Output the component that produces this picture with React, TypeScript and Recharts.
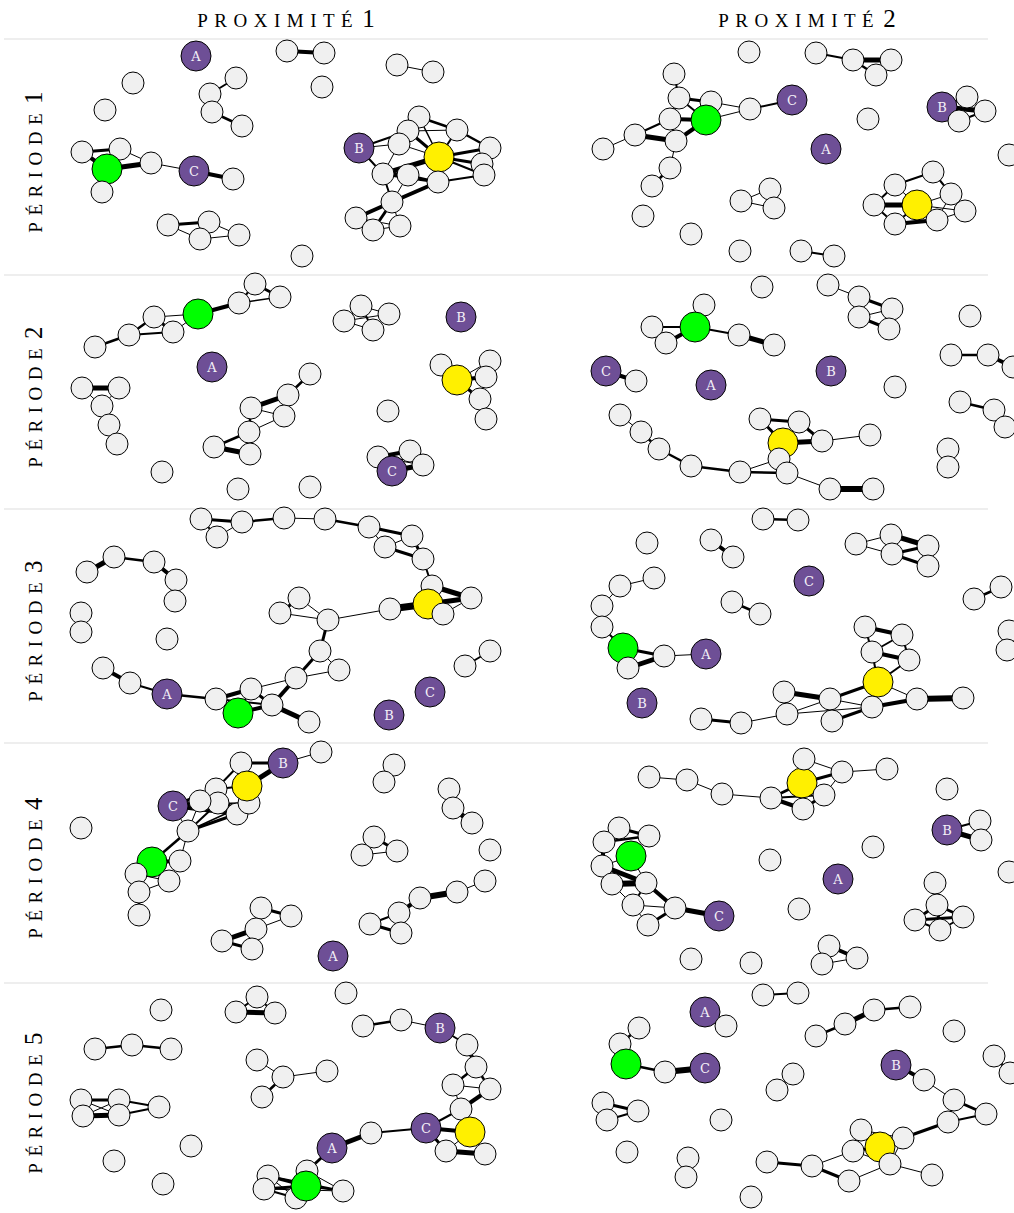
import { ScatterChart, Scatter, XAxis, YAxis } from "recharts"

type Node = [string, number, number]
type Edge = [string, string, number]

const columns = ["proximité 1", "proximité 2"]
const rows = ["période 1", "période 2", "période 3", "période 4", "période 5"]

// node id: A/B/C purple, G green, Y yellow, anything else = plain node
const p11Nodes: Node[] = [
  ["A", 196, 56], ["a1", 287, 51], ["a2", 324, 53], ["a3", 397, 65], ["a4", 433, 72],
  ["a5", 133, 83], ["a6", 322, 87], ["a7", 236, 78], ["a8", 210, 94], ["a9", 212, 112],
  ["a10", 242, 126], ["a11", 105, 110],
  ["b1", 82, 152], ["b2", 120, 149], ["G", 107, 169], ["b3", 151, 163], ["b4", 102, 192],
  ["C", 194, 171], ["b5", 233, 179],
  ["c1", 168, 225], ["c2", 209, 222], ["c3", 200, 239], ["c4", 239, 235], ["c5", 302, 256],
  ["B", 359, 148], ["n1", 419, 117], ["n2", 457, 130], ["n3", 408, 131], ["n4", 399, 144],
  ["Y", 439, 157], ["n5", 490, 148], ["n6", 482, 164], ["n7", 484, 175], ["n8", 383, 174],
  ["n9", 408, 175], ["n10", 438, 182], ["n11", 392, 202], ["n12", 356, 218], ["n13", 373, 230],
  ["n14", 400, 226],
]
const p11Edges: Edge[] = [
  ["a1", "a2", 4], ["a3", "a4", 1], ["a7", "a8", 2], ["a8", "a9", 1.5], ["a9", "a10", 2.5],
  ["b1", "b2", 3], ["b1", "G", 4], ["b2", "G", 1.5], ["b2", "b3", 1], ["G", "b3", 5], ["G", "b4", 1],
  ["b3", "C", 1], ["C", "b5", 4],
  ["c1", "c2", 3], ["c1", "c3", 1], ["c2", "c3", 1], ["c2", "c4", 1], ["c3", "c4", 1],
  ["B", "n3", 2], ["B", "n8", 2], ["B", "n4", 1], ["n1", "n2", 2.5], ["n1", "n3", 1], ["n3", "n2", 1],
  ["n3", "n4", 1], ["n3", "Y", 3], ["n1", "Y", 1.5], ["n2", "n5", 2.5], ["n2", "Y", 2], ["n4", "Y", 1],
  ["n4", "n8", 1], ["Y", "n5", 3], ["Y", "n6", 3], ["Y", "n7", 2], ["Y", "n8", 5], ["Y", "n10", 2],
  ["n8", "n9", 4], ["n9", "n10", 2], ["n8", "n10", 3], ["n10", "n7", 2], ["n5", "n7", 1],
  ["n5", "n6", 1], ["n6", "n7", 1], ["n8", "n11", 2], ["n10", "n11", 4], ["n11", "n12", 4],
  ["n11", "n13", 3], ["n11", "n14", 1], ["n12", "n14", 1], ["n12", "n13", 1], ["n13", "n14", 1],
  ["n9", "n11", 1],
]

const p12Nodes: Node[] = [
  ["d1", 749, 52], ["d2", 816, 53], ["d3", 853, 60], ["d4", 891, 60], ["d5", 876, 75],
  ["e1", 674, 74], ["e2", 679, 98], ["e3", 711, 102], ["e4", 670, 119], ["G", 706, 120],
  ["e5", 635, 135], ["e6", 676, 141], ["e7", 603, 149], ["e8", 670, 168], ["e9", 652, 186],
  ["e10", 750, 109], ["C", 792, 100], ["f1", 868, 119], ["A", 826, 149],
  ["B", 942, 107], ["f2", 967, 97], ["f3", 985, 111], ["f4", 959, 121], ["f5", 1009, 155],
  ["h1", 933, 172], ["h2", 895, 185], ["h3", 951, 194], ["h4", 874, 205], ["Y", 917, 205],
  ["h5", 965, 211], ["h6", 937, 220], ["h7", 895, 224],
  ["i1", 741, 201], ["i2", 770, 189], ["i3", 774, 208], ["i4", 643, 216], ["i5", 691, 234],
  ["i6", 740, 251], ["i7", 801, 251], ["i8", 834, 256],
]
const p12Edges: Edge[] = [
  ["d2", "d3", 2], ["d3", "d4", 5], ["d3", "d5", 2.5], ["d5", "d4", 1.5],
  ["e1", "e2", 2], ["e2", "e3", 3], ["e2", "e4", 2.5], ["e2", "G", 2], ["e4", "G", 4], ["e4", "e5", 2],
  ["e5", "e6", 5], ["e6", "G", 4], ["e4", "e6", 2], ["e5", "e7", 1], ["e6", "e8", 1], ["e8", "e9", 2.5],
  ["e3", "e10", 1], ["G", "e10", 1], ["e10", "C", 2], ["e3", "G", 2],
  ["B", "f3", 5], ["B", "f2", 2], ["f2", "f3", 1], ["f4", "f3", 2], ["B", "f4", 1],
  ["h2", "h1", 2], ["h1", "h3", 2], ["h2", "h4", 2], ["h4", "Y", 5], ["h4", "h7", 2], ["h7", "h6", 4],
  ["h3", "h5", 2], ["Y", "h5", 1], ["h6", "h5", 1], ["h3", "h6", 1], ["Y", "h2", 1], ["Y", "h3", 1],
  ["Y", "h7", 2],
  ["i1", "i2", 1], ["i1", "i3", 1], ["i2", "i3", 2], ["i7", "i8", 2],
]

const p21Nodes: Node[] = [
  ["a1", 255, 284], ["a2", 280, 297], ["a3", 239, 303], ["G", 198, 314], ["a4", 154, 317],
  ["a5", 173, 332], ["a6", 129, 335], ["a7", 95, 347],
  ["b1", 361, 306], ["b2", 344, 321], ["b3", 389, 314], ["b4", 373, 330],
  ["B", 461, 317], ["A", 212, 367],
  ["c1", 441, 365], ["Y", 457, 380], ["c2", 490, 361], ["c3", 486, 377], ["c4", 480, 399], ["c5", 486, 419],
  ["d1", 82, 388], ["d2", 119, 388], ["d3", 102, 406], ["d4", 109, 425], ["d5", 117, 444],
  ["e1", 310, 374], ["e2", 288, 395], ["e3", 251, 408], ["e4", 284, 416], ["e5", 249, 432],
  ["e6", 214, 447], ["e7", 250, 454],
  ["f1", 388, 411], ["f2", 162, 472], ["f3", 238, 489], ["f4", 310, 487],
  ["g1", 378, 457], ["g2", 410, 451], ["g3", 423, 465], ["C", 392, 471],
]
const p21Edges: Edge[] = [
  ["a1", "a2", 3], ["a1", "a3", 2], ["a3", "a2", 1.5], ["G", "a3", 4], ["G", "a4", 1], ["G", "a5", 1],
  ["a4", "a5", 3], ["a4", "a6", 2.5], ["a6", "a5", 2], ["a6", "a7", 2.5],
  ["b1", "b2", 2], ["b1", "b4", 2], ["b2", "b3", 1], ["b2", "b4", 1], ["b1", "b3", 1], ["b3", "b4", 1],
  ["Y", "c1", 1], ["Y", "c2", 1], ["Y", "c3", 4], ["c2", "c3", 1], ["c3", "c4", 1], ["Y", "c4", 3],
  ["c4", "c5", 2.5],
  ["d1", "d2", 5], ["d1", "d3", 1], ["d2", "d3", 1], ["d3", "d4", 2], ["d4", "d5", 2.5],
  ["e1", "e2", 2.5], ["e2", "e3", 5], ["e2", "e4", 1], ["e3", "e4", 1], ["e3", "e5", 2.5],
  ["e4", "e5", 1], ["e5", "e6", 2.5], ["e5", "e7", 1], ["e6", "e7", 5],
  ["g1", "g2", 4], ["g1", "g3", 1], ["C", "g3", 5], ["g2", "g3", 2], ["C", "g2", 2], ["g1", "C", 1],
]

const p22Nodes: Node[] = [
  ["a1", 762, 287], ["b1", 828, 285], ["b2", 859, 297], ["b3", 892, 309], ["b4", 859, 317],
  ["b5", 889, 329], ["b6", 970, 316],
  ["c1", 704, 305], ["G", 695, 327], ["c2", 652, 327], ["c3", 666, 343], ["c4", 739, 335], ["c5", 774, 345],
  ["C", 606, 371], ["d1", 636, 381], ["A", 711, 385], ["B", 831, 371], ["d2", 895, 387],
  ["e1", 951, 355], ["e2", 988, 355], ["e3", 1013, 367], ["e4", 960, 402], ["e5", 994, 410],
  ["e6", 1005, 427], ["e7", 948, 449], ["e8", 948, 467],
  ["h1", 760, 419], ["h2", 799, 422], ["Y", 783, 443], ["h3", 822, 441], ["h4", 870, 435],
  ["h5", 779, 459], ["h6", 787, 473], ["h7", 740, 472], ["h8", 691, 466], ["h9", 659, 449],
  ["h10", 641, 432], ["h11", 620, 415], ["h12", 830, 489], ["h13", 873, 489],
]
const p22Edges: Edge[] = [
  ["b1", "b2", 1], ["b2", "b3", 3], ["b2", "b4", 1], ["b4", "b3", 1], ["b4", "b5", 3], ["b3", "b5", 2],
  ["G", "c1", 1], ["G", "c2", 2], ["c2", "c3", 2], ["G", "c3", 4], ["G", "c4", 2], ["c4", "c5", 5],
  ["C", "d1", 4],
  ["e1", "e2", 2.5], ["e2", "e3", 4], ["e4", "e5", 2.5], ["e5", "e6", 1], ["e7", "e8", 1],
  ["h1", "h2", 3], ["h1", "Y", 3], ["h2", "h3", 3], ["Y", "h3", 5], ["h3", "h4", 1], ["Y", "h5", 1],
  ["h5", "h6", 2], ["Y", "h6", 3], ["h5", "h7", 1], ["h7", "h6", 2.5], ["h7", "h8", 2.5],
  ["h8", "h9", 2.5], ["h9", "h10", 2.5], ["h10", "h11", 1], ["h6", "h12", 1], ["h12", "h13", 6],
  ["Y", "h2", 1],
]

const p31Nodes: Node[] = [
  ["a1", 201, 519], ["a2", 217, 537], ["a3", 242, 522], ["a4", 284, 518], ["a5", 325, 519],
  ["a6", 369, 527], ["a7", 412, 536], ["a8", 385, 547], ["a9", 423, 559], ["a10", 432, 586],
  ["Y", 428, 604], ["a11", 471, 598], ["a12", 443, 614], ["a13", 390, 609],
  ["b1", 328, 620], ["b2", 299, 598], ["b3", 280, 613],
  ["c1", 320, 651], ["c2", 339, 670], ["c3", 296, 678], ["c4", 251, 689], ["c5", 216, 699],
  ["G", 238, 713], ["c6", 272, 705], ["c7", 309, 722], ["A", 167, 694], ["c8", 130, 683], ["c9", 103, 668],
  ["d1", 87, 572], ["d2", 114, 557], ["d3", 154, 562], ["d4", 176, 580], ["d5", 175, 601],
  ["d6", 81, 613], ["d7", 81, 632], ["d8", 167, 639], ["e1", 465, 666], ["e2", 490, 651],
  ["C", 430, 692], ["B", 389, 715],
]
const p31Edges: Edge[] = [
  ["a1", "a3", 3], ["a1", "a2", 2], ["a2", "a3", 1], ["a3", "a4", 2.5], ["a4", "a5", 1], ["a5", "a6", 2.5],
  ["a6", "a7", 3], ["a6", "a8", 1], ["a8", "a7", 1], ["a8", "a9", 3], ["a7", "a9", 3], ["a9", "a10", 2],
  ["a10", "Y", 2], ["a10", "a11", 5], ["Y", "a11", 5], ["a13", "Y", 7], ["a13", "a11", 1],
  ["Y", "a12", 2], ["a12", "a11", 1],
  ["a13", "b1", 1], ["b1", "b2", 1], ["b1", "b3", 1], ["b2", "b3", 3],
  ["b1", "c1", 3], ["c1", "c2", 1], ["c1", "c3", 3], ["c3", "c2", 1], ["c3", "c6", 4], ["c3", "c4", 1],
  ["c4", "c5", 4], ["c4", "c6", 3], ["c5", "c6", 2], ["G", "c5", 2], ["G", "c6", 4], ["G", "c4", 2],
  ["c6", "c7", 5], ["A", "c5", 2.5], ["A", "c8", 2], ["c8", "c9", 4],
  ["d1", "d2", 5], ["d2", "d3", 2.5], ["d3", "d4", 4], ["d4", "d5", 4], ["d6", "d7", 1], ["e1", "e2", 2],
]

const p32Nodes: Node[] = [
  ["a1", 763, 519], ["a2", 798, 520], ["a3", 647, 543], ["a4", 711, 540], ["a5", 733, 557],
  ["b1", 856, 544], ["b2", 891, 535], ["b3", 928, 546], ["b4", 892, 554], ["b5", 928, 566],
  ["C", 809, 581],
  ["c1", 654, 578], ["c2", 620, 586], ["c3", 602, 606], ["c4", 602, 627], ["G", 623, 648],
  ["c5", 664, 656], ["c6", 628, 668], ["A", 706, 654],
  ["d1", 974, 599], ["d2", 1001, 587], ["d3", 1009, 631], ["d4", 1007, 650], ["d5", 732, 602],
  ["d6", 760, 614], ["B", 642, 703],
  ["h1", 865, 627], ["h2", 902, 635], ["h3", 872, 652], ["h4", 909, 660], ["Y", 878, 682],
  ["h5", 784, 692], ["h6", 830, 699], ["h7", 917, 699], ["h8", 963, 698], ["h9", 872, 707],
  ["h10", 787, 714], ["h11", 832, 721], ["h12", 741, 723], ["h13", 701, 719],
]
const p32Edges: Edge[] = [
  ["a1", "a2", 2.5], ["a4", "a5", 4],
  ["b1", "b2", 1], ["b1", "b4", 1], ["b2", "b3", 5], ["b4", "b3", 3], ["b4", "b5", 3], ["b2", "b4", 1],
  ["b3", "b5", 1],
  ["c1", "c2", 1], ["c2", "c3", 1], ["c3", "c4", 4], ["c4", "G", 2], ["G", "c5", 3], ["G", "c6", 1],
  ["c6", "c5", 5], ["c5", "A", 1],
  ["d1", "d2", 2.5], ["d3", "d4", 4], ["d5", "d6", 2.5],
  ["h1", "h2", 4], ["h1", "h3", 2], ["h2", "h3", 2], ["h3", "h4", 4], ["h2", "h4", 2], ["h3", "Y", 2],
  ["h4", "Y", 2], ["Y", "h6", 3], ["Y", "h7", 1], ["h5", "h6", 5], ["h5", "h10", 1], ["h6", "h10", 1],
  ["h6", "h9", 1], ["h6", "h11", 2], ["h10", "h9", 1], ["h9", "h7", 4], ["h7", "h8", 6], ["h11", "h9", 3],
  ["h10", "h12", 1], ["h12", "h13", 3],
]

const p41Nodes: Node[] = [
  ["a1", 321, 752], ["B", 283, 763], ["a2", 241, 763], ["a3", 216, 789], ["a4", 237, 814],
  ["a5", 249, 803], ["a6", 218, 803], ["a7", 200, 801], ["Y", 247, 786], ["C", 173, 806],
  ["a8", 188, 831], ["G", 152, 862], ["a9", 180, 861], ["a10", 169, 881], ["a11", 136, 874],
  ["a12", 139, 892], ["a13", 139, 915],
  ["b1", 81, 828], ["b2", 394, 765], ["b3", 384, 782], ["b4", 449, 789], ["b5", 453, 808],
  ["b6", 472, 823], ["b7", 374, 837], ["b8", 397, 851], ["b9", 362, 855], ["b10", 490, 850],
  ["c1", 485, 881], ["c2", 457, 892], ["c3", 420, 898], ["c4", 399, 913], ["c5", 370, 924], ["c6", 401, 933],
  ["d1", 261, 908], ["d2", 291, 916], ["d3", 256, 929], ["d4", 222, 941], ["d5", 252, 949],
  ["A", 333, 956],
]
const p41Edges: Edge[] = [
  ["B", "a1", 1], ["B", "a2", 3], ["B", "Y", 5], ["a2", "a3", 2], ["a2", "Y", 1], ["Y", "a3", 2],
  ["Y", "a4", 2], ["Y", "a5", 1], ["C", "a3", 3], ["C", "a4", 4], ["C", "a5", 1.5], ["C", "a6", 2],
  ["C", "a7", 2], ["a7", "a4", 2], ["a6", "a5", 1], ["C", "a8", 1], ["a8", "a4", 3], ["a8", "a6", 2],
  ["a8", "a5", 1.5], ["a8", "a7", 1], ["a8", "G", 2.5], ["a8", "a9", 1], ["G", "a9", 4], ["G", "a11", 2],
  ["G", "a10", 3], ["a10", "a11", 1], ["a11", "a12", 3], ["a10", "a12", 1], ["a12", "a13", 2.5],
  ["a3", "a4", 2], ["a7", "a3", 2],
  ["b2", "b3", 1], ["b4", "b5", 2], ["b5", "b6", 5], ["b7", "b8", 3], ["b7", "b9", 2], ["b9", "b8", 1],
  ["c1", "c2", 1], ["c2", "c3", 6], ["c3", "c4", 4], ["c4", "c5", 2], ["c5", "c6", 3], ["c4", "c6", 2],
  ["d1", "d2", 3], ["d1", "d3", 2], ["d3", "d2", 1], ["d3", "d4", 5], ["d4", "d5", 3], ["d3", "d5", 1],
]

const p42Nodes: Node[] = [
  ["a1", 649, 777], ["a2", 687, 780], ["a3", 722, 794], ["a4", 771, 798], ["Y", 802, 783],
  ["a5", 804, 759], ["a6", 842, 772], ["a7", 887, 769], ["a8", 824, 795], ["a9", 803, 809],
  ["b1", 947, 789], ["B", 947, 830], ["b2", 980, 821], ["b3", 981, 840], ["b4", 1009, 872],
  ["b5", 873, 847], ["b6", 770, 860], ["A", 838, 879], ["b7", 799, 909],
  ["g1", 619, 828], ["g2", 649, 836], ["g3", 604, 842], ["G", 631, 856], ["g4", 602, 866],
  ["g5", 612, 884], ["g6", 646, 883], ["g7", 633, 905], ["g8", 648, 925], ["g9", 675, 908],
  ["C", 719, 916],
  ["k1", 935, 883], ["k2", 937, 905], ["k3", 915, 920], ["k4", 963, 917], ["k5", 940, 930],
  ["m1", 829, 946], ["m2", 857, 958], ["m3", 822, 964], ["m4", 691, 959], ["m5", 751, 963],
]
const p42Edges: Edge[] = [
  ["a1", "a2", 1], ["a2", "a3", 1], ["a3", "a4", 1], ["a4", "Y", 3], ["a4", "a9", 4], ["a4", "a8", 2],
  ["Y", "a6", 3], ["a5", "a6", 1], ["a6", "a7", 1], ["a6", "a8", 1], ["a8", "a9", 3], ["Y", "a5", 1],
  ["Y", "a8", 1], ["Y", "a9", 2],
  ["B", "b2", 2], ["B", "b3", 5], ["b2", "b3", 1],
  ["g1", "g2", 3], ["g3", "g2", 2.5], ["g1", "g3", 2], ["g3", "g4", 4], ["g4", "G", 1], ["g4", "g6", 5],
  ["g5", "g6", 6], ["g4", "g5", 1], ["g5", "g7", 1], ["g6", "g7", 2], ["g6", "g9", 4], ["g7", "g9", 1],
  ["g8", "g9", 3], ["g7", "g8", 1], ["g9", "C", 5], ["G", "g6", 1],
  ["k1", "k2", 2], ["k2", "k3", 3], ["k2", "k4", 3], ["k3", "k4", 3], ["k2", "k5", 3], ["k3", "k5", 2],
  ["k5", "k4", 2],
  ["m1", "m2", 4], ["m1", "m3", 2], ["m3", "m2", 1],
]

const p51Nodes: Node[] = [
  ["a1", 346, 993], ["a2", 161, 1010], ["a3", 257, 997], ["a4", 236, 1012], ["a5", 275, 1013],
  ["b1", 363, 1026], ["b2", 401, 1020], ["B", 440, 1028], ["b3", 467, 1045], ["b4", 476, 1067],
  ["b5", 453, 1085], ["b6", 490, 1089], ["b7", 461, 1109], ["C", 426, 1128], ["Y", 470, 1132],
  ["b8", 446, 1151], ["b9", 485, 1154], ["b10", 371, 1133], ["A", 332, 1148],
  ["g1", 307, 1171], ["g2", 268, 1176], ["g3", 264, 1189], ["g4", 296, 1198], ["g5", 343, 1191],
  ["G", 306, 1186],
  ["c1", 95, 1049], ["c2", 132, 1045], ["c3", 171, 1049],
  ["d1", 81, 1100], ["d2", 119, 1100], ["d3", 83, 1116], ["d4", 119, 1115], ["d5", 159, 1107],
  ["e1", 257, 1060], ["e2", 283, 1077], ["e3", 327, 1071], ["e4", 262, 1097],
  ["f1", 191, 1146], ["f2", 114, 1161], ["f3", 163, 1184],
]
const p51Edges: Edge[] = [
  ["a3", "a4", 2], ["a3", "a5", 2], ["a4", "a5", 5],
  ["b1", "b2", 2.5], ["b2", "B", 1], ["B", "b3", 2], ["b3", "b4", 4], ["b4", "b5", 2.5], ["b4", "b6", 2.5],
  ["b5", "b6", 1], ["b5", "b7", 1], ["b6", "b7", 4], ["b7", "C", 2], ["C", "Y", 4], ["C", "b8", 3],
  ["b8", "b9", 5], ["Y", "b9", 1], ["Y", "b8", 1], ["C", "b10", 2], ["b10", "A", 5], ["A", "g1", 3],
  ["g2", "g5", 2], ["g3", "g5", 1], ["g2", "G", 3], ["g3", "G", 3], ["g2", "g3", 2], ["G", "g5", 2],
  ["g3", "g4", 2], ["g1", "g5", 1], ["g2", "g4", 1],
  ["c1", "c2", 2.5], ["c2", "c3", 2.5],
  ["d1", "d2", 3], ["d1", "d4", 1], ["d3", "d2", 1], ["d3", "d4", 5], ["d2", "d5", 2], ["d4", "d5", 2],
  ["d1", "d3", 1], ["d2", "d4", 1],
  ["e1", "e2", 1], ["e2", "e3", 1], ["e2", "e4", 2.5],
]

const p52Nodes: Node[] = [
  ["a1", 763, 995], ["a2", 798, 993], ["A", 705, 1012], ["a3", 726, 1026],
  ["b1", 816, 1036], ["b2", 845, 1024], ["b3", 874, 1010], ["b4", 910, 1007], ["b5", 954, 1031],
  ["b6", 994, 1056], ["b7", 1010, 1073],
  ["c1", 639, 1028], ["c2", 620, 1044], ["G", 626, 1064], ["c3", 665, 1072], ["C", 705, 1068],
  ["d1", 793, 1074], ["d2", 777, 1090], ["d3", 603, 1103], ["d4", 638, 1111], ["d5", 607, 1120],
  ["d6", 721, 1120], ["d7", 627, 1152], ["d8", 688, 1158], ["d9", 686, 1177], ["d10", 751, 1197],
  ["B", 896, 1065], ["h1", 924, 1080], ["h2", 954, 1100], ["h3", 986, 1114], ["h4", 948, 1122],
  ["h5", 903, 1138], ["h6", 861, 1130], ["h7", 853, 1151], ["Y", 880, 1147], ["h8", 890, 1164],
  ["h9", 932, 1175], ["h10", 849, 1181], ["h11", 812, 1166], ["h12", 767, 1162],
]
const p52Edges: Edge[] = [
  ["a1", "a2", 2], ["A", "a3", 4],
  ["b1", "b2", 2.5], ["b2", "b3", 5], ["b3", "b4", 2.5], ["b6", "b7", 3],
  ["c1", "c2", 2.5], ["c2", "G", 1], ["G", "c3", 2.5], ["c3", "C", 6],
  ["d1", "d2", 2], ["d3", "d4", 3], ["d5", "d4", 2], ["d3", "d5", 1], ["d8", "d9", 1],
  ["B", "h1", 4], ["h1", "h2", 1], ["h2", "h3", 3], ["h2", "h4", 2], ["h4", "h3", 2], ["h4", "h5", 3],
  ["h5", "Y", 2], ["h6", "h7", 4], ["h6", "Y", 2], ["h7", "Y", 3], ["h7", "h11", 1], ["Y", "h8", 1],
  ["h8", "h9", 1], ["h8", "h10", 1], ["h11", "h10", 3], ["h12", "h11", 3], ["h5", "h8", 1],
  ["h7", "h8", 1], ["h6", "h5", 1],
]

const panels: [Node[], Edge[]][][] = [
  [[p11Nodes, p11Edges], [p12Nodes, p12Edges]],
  [[p21Nodes, p21Edges], [p22Nodes, p22Edges]],
  [[p31Nodes, p31Edges], [p32Nodes, p32Edges]],
  [[p41Nodes, p41Edges], [p42Nodes, p42Edges]],
  [[p51Nodes, p51Edges], [p52Nodes, p52Edges]],
]

const colX = [50, 515, 1014]
const rowY = [40, 276, 510, 744, 984, 1213]

const PURPLE = "#6e4f96"

const NodeShape = (props: any) => {
  const { cx, cy, payload } = props
  const id = payload.id
  if (id === "A" || id === "B" || id === "C") {
    return (
      <g>
        <circle cx={cx} cy={cy} r={15} fill={PURPLE} stroke="#000" strokeWidth={1} />
        <text x={cx} y={cy + 4.5} textAnchor="middle" fontSize={13} fill="#f4f0f8"
          fontFamily="'DejaVu Serif', serif">{id}</text>
      </g>
    )
  }
  if (id === "G") return <circle cx={cx} cy={cy} r={15} fill="#00ff00" stroke="#000" strokeWidth={1} />
  if (id === "Y") return <circle cx={cx} cy={cy} r={15} fill="#fff000" stroke="#000" strokeWidth={1} />
  return <circle cx={cx} cy={cy} r={11} fill="#f0f0f0" stroke="#000" strokeWidth={1} />
}

const NoDot = () => <g />

function Panel({ nodes, edges, x0, x1, y0, y1 }: any) {
  const byId: Record<string, { x: number; y: number }> = {}
  nodes.forEach(([id, x, y]: Node) => { byId[id] = { x, y } })
  const pts = nodes.map(([id, x, y]: Node) => ({ id, x, y }))
  return (
    <div style={{ position: "absolute", left: x0, top: y0 }}>
      <ScatterChart width={x1 - x0} height={y1 - y0} margin={{ top: 0, right: 0, bottom: 0, left: 0 }}>
        <XAxis type="number" dataKey="x" domain={[x0, x1]} hide />
        <YAxis type="number" dataKey="y" domain={[y0, y1]} reversed hide />
        {edges.map(([a, b, w]: Edge, i: number) => (
          <Scatter key={i} data={[byId[a], byId[b]]} line={{ stroke: "#000", strokeWidth: w }}
            shape={NoDot} isAnimationActive={false} />
        ))}
        <Scatter data={pts} shape={NodeShape} isAnimationActive={false} />
      </ScatterChart>
    </div>
  )
}

const Heading = ({ text }: { text: string }) => {
  const word = text.slice(0, -2)
  const num = text.slice(-1)
  return (
    <span style={{ fontFamily: "'Liberation Serif', serif", whiteSpace: "nowrap" }}>
      <span style={{ fontSize: 19, letterSpacing: 6.5, textTransform: "uppercase" }}>{word}</span>
      <span style={{ fontSize: 25, marginLeft: 3 }}>{num}</span>
    </span>
  )
}

export default function App() {
  return (
    <div style={{ position: "relative", width: 1014, height: 1213, background: "#fff", overflow: "hidden" }}>
      <style>{"body{margin:0} .recharts-surface{overflow:visible}"}</style>
      {columns.map((c, i) => (
        <div key={c} style={{ position: "absolute", left: i === 0 ? 286 - 150 : 807 - 150, width: 300, top: 2,
          textAlign: "center", lineHeight: "34px" }}>
          <Heading text={c} />
        </div>
      ))}
      {rows.map((r, i) => (
        <div key={r} style={{ position: "absolute", left: 34 - 150, top: (rowY[i] + rowY[i + 1]) / 2 + 4 - 17,
          width: 300, height: 34, lineHeight: "34px", textAlign: "center", transform: "rotate(-90deg)" }}>
          <Heading text={r} />
        </div>
      ))}
      {rowY.slice(0, 5).map((y) => (
        <div key={y} style={{ position: "absolute", left: 4, width: 984, top: y - 2, height: 1.5, background: "#eeeeee" }} />
      ))}
      {panels.map((row, ri) => row.map(([nodes, edges], ci) => (
        <Panel key={`${ri}-${ci}`} nodes={nodes} edges={edges}
          x0={colX[ci]} x1={colX[ci + 1]} y0={rowY[ri]} y1={rowY[ri + 1]} />
      )))}
    </div>
  )
}
